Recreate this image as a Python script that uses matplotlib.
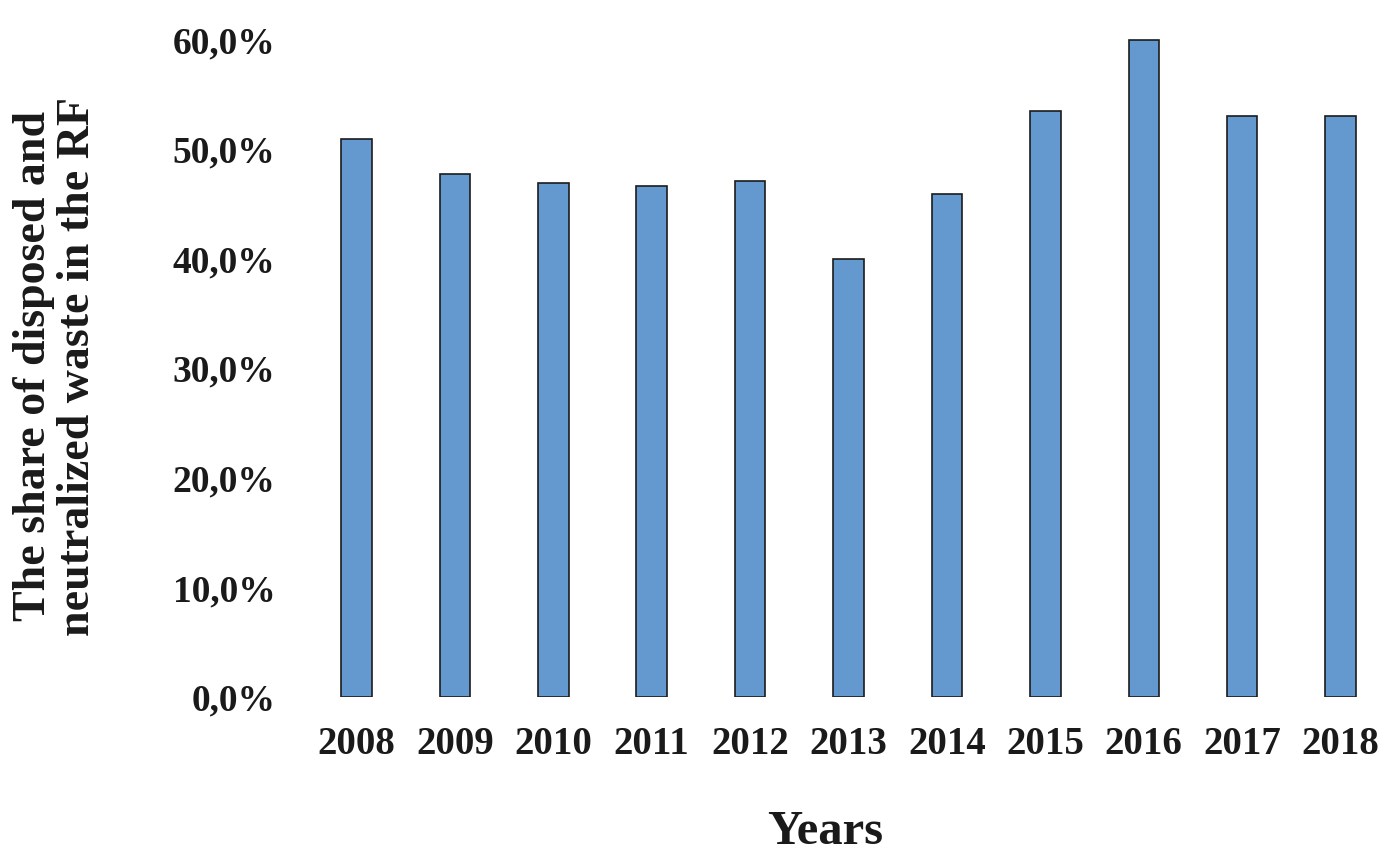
import matplotlib.pyplot as plt
from matplotlib.ticker import FuncFormatter

years = ['2008', '2009', '2010', '2011', '2012', '2013', '2014', '2015', '2016', '2017', '2018']
share = [51.0, 47.8, 46.9, 46.7, 47.1, 40.0, 45.9, 53.5, 60.0, 53.1, 53.1]

plt.rcParams['font.family'] = ['Liberation Serif', 'DejaVu Serif']
plt.rcParams['font.weight'] = 'bold'

fig = plt.figure(figsize=(13.8, 8.58), dpi=100)
# axes placed in pixel terms of the reference
ax = fig.add_axes([307.3 / 1380, 1 - 697 / 858, (1380 - 307.3) / 1380, (697 - 29) / 858])

x = range(len(years))
ax.bar(x, share, width=0.31, color='#6399CE', edgecolor='#1c1c1c', linewidth=1.2)

ax.set_xlim(-0.5, 10.4)
ax.set_ylim(0, 61)
ax.set_yticks([0, 10, 20, 30, 40, 50, 60])
ax.yaxis.set_major_formatter(FuncFormatter(lambda v, p: ('%.1f%%' % v).replace('.', ',')))
ax.set_xticks(list(x))
ax.set_xticklabels(years)

for s in ax.spines.values():
    s.set_visible(False)
ax.tick_params(axis='y', length=0, pad=23, labelsize=27, colors='#1a1a1a')
ax.tick_params(axis='x', length=0, pad=21, labelsize=28, colors='#1a1a1a')

fig.text(56 / 1380, 1 - 366 / 858, 'The share of disposed and\nneutralized waste in the RF',
         rotation=90, ha='center', va='center', fontsize=33, fontweight='bold',
         linespacing=1.05, color='#1a1a1a')
fig.text(825 / 1380, 1 - 832 / 858, 'Years', ha='center', va='center',
         fontsize=35, fontweight='bold', color='#1a1a1a')

fig.savefig('out.png', dpi=100)
